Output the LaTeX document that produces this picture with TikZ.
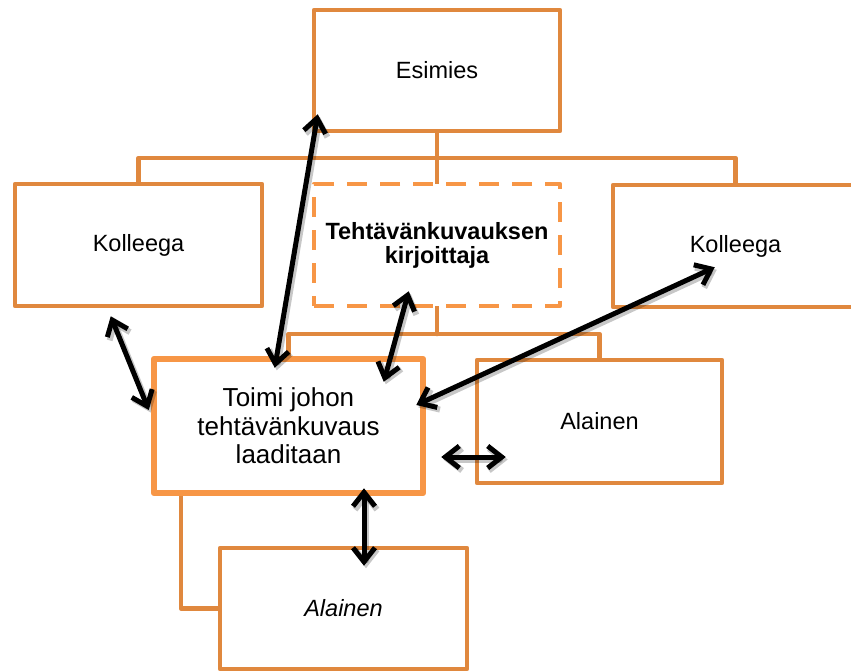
\documentclass[tikz,border=0pt]{standalone}
\usepackage{fontspec}
\setmainfont{Liberation Sans}
\usetikzlibrary{arrows.meta,calc}

\definecolor{linkorange}{HTML}{E0883E}
\definecolor{lightorange}{HTML}{F79646}

\begin{document}
\begin{tikzpicture}[x=1pt,y=-1pt,
  box/.style={draw=linkorange, line width=4.5pt, fill=white, line join=round,
    inner sep=0pt, align=center, font=\fontsize{23.5}{27}\selectfont},
  mainbox/.style={box, draw=lightorange, line width=6.5pt,
    font=\fontsize{26}{28.5}\selectfont},
  writerbox/.style={box, draw=lightorange, dash pattern=on 20pt off 13pt,
    font=\bfseries\fontsize{23.5}{24}\selectfont},
  conn/.style={draw=linkorange, line width=4.5pt, line cap=round, line join=round},
  tips/.style={{Straight Barb[length=14pt,width=22pt]}-{Straight Barb[length=14pt,width=22pt]}},
  arr/.style={tips, draw=black, line width=5pt, line cap=round, line join=round},
  arrshade/.style={tips, draw=black, opacity=0.22, line width=6pt, line cap=round,
    line join=round, transform canvas={shift={(2pt,-2.5pt)}}}]

\useasboundingbox (0,0) rectangle (851,670);

% junction points of the organisation lines
\coordinate (busTop) at (437,158);
\coordinate (busMid) at (437,334);

% boxes (positions as centres)
\node[box, minimum width=246pt, minimum height=121pt] (esim) at (437,70.5) {Esimies};
\node[box, minimum width=247pt, minimum height=122pt] (kolL) at (138.5,245) {Kolleega};
\node[box, minimum width=245pt, minimum height=122pt] (kolR) at (735.5,246) {Kolleega};
\node[box, minimum width=245pt, minimum height=123pt] (alR) at (599.5,421.5) {Alainen};
\node[box, minimum width=247pt, minimum height=121pt] (alB) at (343.5,608.5) {\itshape Alainen};

% connectors between the boxes
\draw[conn] (kolL.north) |- (busTop) -| (kolR.north);
\draw[conn] (esim.south) -- (busTop);
\draw[conn] (busTop) -- (437,184);
\draw[conn] (437,306) -- (busMid);
\draw[conn] (288.5,359) |- (busMid) -| (alR.north);
\draw[conn] (alB.west) -| (181,493);

\node[writerbox, minimum width=246pt, minimum height=122pt] (writer) at (437,245)
  {Tehtävänkuvauksen\\kirjoittaja};
\node[mainbox, minimum width=269pt, minimum height=134pt] (main) at (288.5,426)
  {Toimi johon\\tehtävänkuvaus\\laaditaan};

% end points of the interaction arrows
\coordinate (e1) at ($(esim.south west)+(6,-19)$);
\coordinate (m1) at ($(main.north west)+(124,12)$);
\coordinate (k1) at ($(kolL.south west)+(98,8)$);
\coordinate (m2) at ($(main.west)+(-2,-16)$);
\coordinate (w1) at ($(writer.south west)+(97,-17)$);
\coordinate (m3) at ($(main.north west)+(233,26)$);
\coordinate (k2) at ($(kolR.south west)+(104,-42)$);
\coordinate (m4) at ($(main.east)+(-10,-21)$);
\coordinate (m5) at ($(main.east)+(15,31)$);
\coordinate (a1) at ($(alR.west)+(31,35.5)$);
\coordinate (m6) at ($(main.south)+(75.5,-8)$);
\coordinate (a2) at ($(alB.north)+(20.5,20)$);

\foreach \p/\q in {e1/m1,k1/m2,w1/m3,k2/m4,m5/a1,m6/a2}
  \draw[arrshade] (\p) -- (\q);
\foreach \p/\q in {e1/m1,k1/m2,w1/m3,k2/m4,m5/a1,m6/a2}
  \draw[arr] (\p) -- (\q);

\end{tikzpicture}
\end{document}
